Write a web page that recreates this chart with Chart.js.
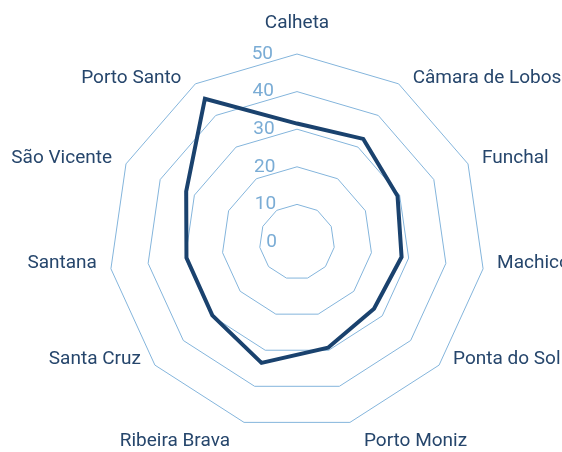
<!DOCTYPE html>
<html>
<head>
<meta charset="utf-8">
<script src="https://cdn.jsdelivr.net/npm/chart.js@4.4.1/dist/chart.umd.min.js"></script>
<style>
  html, body { margin: 0; padding: 0; background: #fff; overflow: hidden; }
  canvas { display: block; }
</style>
</head>
<body>
<canvas id="radarChart" width="562" height="452"></canvas>
<script>
// Municipalities, clockwise from the top
const municipalities = [
  'Calheta', 'Câmara de Lobos', 'Funchal', 'Machico', 'Ponta do Sol',
  'Porto Moniz', 'Ribeira Brava', 'Santa Cruz', 'Santana', 'São Vicente', 'Porto Santo'
]
const values = [31.5, 32.6, 29.4, 28.1, 27.1, 29.3, 33.5, 29.8, 29.7, 32.4, 45.3]

// Radial axis
const axisMin = 0
const axisMax = 50
const axisStep = 10

const colors = {
  line: '#1a426e',
  grid: '#84b5dc',
  tick: '#7aacd5',
  label: '#26466c'
}
const fontFamily = 'Roboto, "Noto Sans", sans-serif'

// Value labels sit left of the vertical axis, category names outside the outer ring
const radarText = {
  id: 'radarText',
  beforeDatasetsDraw(chart) {
    const scale = chart.scales.r
    const ctx = chart.ctx
    ctx.save()
    ctx.font = '19px ' + fontFamily
    ctx.textBaseline = 'middle'

    ctx.fillStyle = colors.tick
    ctx.textAlign = 'right'
    scale.ticks.forEach(tick => {
      const dist = scale.getDistanceFromCenterForValue(tick.value)
      ctx.fillText(tick.label, scale.xCenter - 20 - dist * 0.021, scale.yCenter - dist)
    })

    ctx.fillStyle = colors.label
    chart.data.labels.forEach((name, i) => {
      const p = scale.getPointPosition(i, scale.drawingArea)
      const dx = p.x - scale.xCenter
      const dy = (p.y - scale.yCenter) / scale.drawingArea
      let x = p.x
      let y = p.y - 6
      if (Math.abs(dx) < 1) {
        ctx.textAlign = 'center'
        y = p.y - 31
      } else {
        ctx.textAlign = dx > 0 ? 'left' : 'right'
        x = dx > 0 ? p.x + 14 : p.x - 14
        if (dy > 0.9) y = p.y + 19
      }
      ctx.fillText(name, x, y)
    })
    ctx.restore()
  }
}

new Chart(document.getElementById('radarChart'), {
  type: 'radar',
  data: {
    labels: municipalities,
    datasets: [{
      data: values,
      borderColor: colors.line,
      borderWidth: 4,
      fill: false,
      pointRadius: 0,
      pointHoverRadius: 0,
      tension: 0
    }]
  },
  options: {
    responsive: false,
    animation: false,
    layout: {
      padding: { left: 32, right: 0, top: 54, bottom: 21 }
    },
    plugins: {
      legend: { display: false },
      tooltip: { enabled: false }
    },
    scales: {
      r: {
        min: axisMin,
        max: axisMax,
        ticks: { stepSize: axisStep, display: false },
        angleLines: { display: false },
        grid: { color: colors.grid, lineWidth: 1 },
        pointLabels: { display: false }
      }
    }
  },
  plugins: [radarText]
})
</script>
</body>
</html>
